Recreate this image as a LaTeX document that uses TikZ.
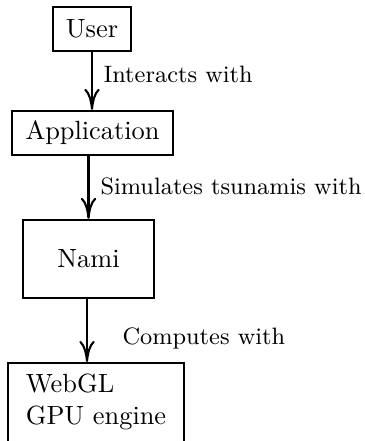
\documentclass[tikz,border=0pt]{standalone}
\usetikzlibrary{arrows.meta}
\begin{document}
\begin{tikzpicture}[x=0.3795pt,y=-0.3795pt,
  box/.style={draw,thick,rectangle,inner sep=0pt},
  lbl/.style={anchor=base west,inner sep=0pt,font=\small},
  conn/.style={thick,-{To[length=8pt,width=5.8pt]}}]
\useasboundingbox (0,0) rectangle (364,441);
\clip (0,0) rectangle (364,441);
\node[box,minimum width=29.6pt,minimum height=16.7pt] (user) at (92,29) {User};
\node[box,minimum width=61.1pt,minimum height=16.7pt] (app) at (92.5,133) {Application};
\node[box,minimum width=49.7pt,minimum height=29.6pt] (nami) at (88.5,259) {Nami};
\node[box,anchor=north,minimum width=66.8pt,inner ysep=4.3pt,align=left,text depth=5pt] (webgl) at (96,362) {WebGL\\GPU engine};
\draw[conn] (user.south) -- (user.south |- app.north);
\draw[conn] (app.south -| nami.north) -- (nami.north);
\draw[conn] (nami.south -| 87,0) -- (webgl.north -| 87,0);
\node[lbl] (l1) at (103,83) {Interacts with};
\node[lbl] (l2) at (100,195) {Simulates tsunamis with};
\node[lbl] (l3) at (122,344) {Computes with};
\end{tikzpicture}
\end{document}
